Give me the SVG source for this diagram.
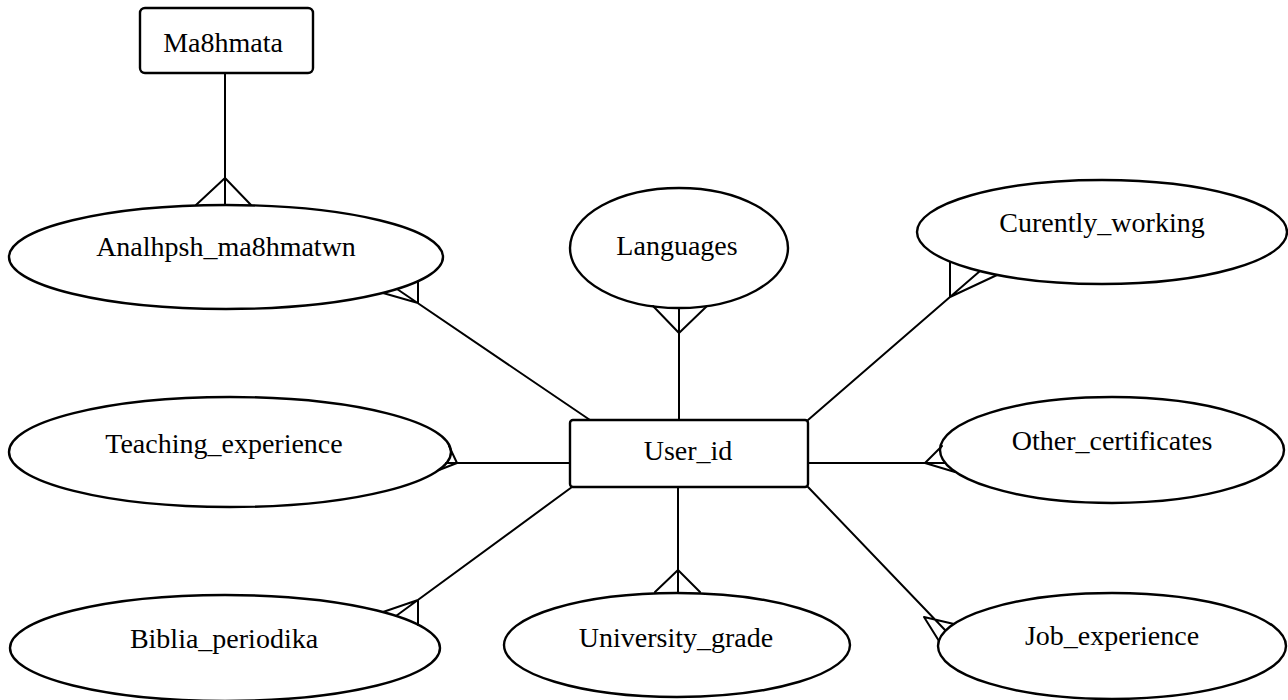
<svg xmlns="http://www.w3.org/2000/svg" width="1288" height="700" viewBox="0 0 1288 700">
<style>
  .ent { fill: #ffffff; stroke: #000; stroke-width: 2.4; }
  .att { fill: #ffffff; stroke: #000; stroke-width: 2.4; }
  .ln { fill: none; stroke: #000; stroke-width: 2; stroke-linecap: round; stroke-linejoin: round; }
  text { font-family: 'Liberation Serif', 'DejaVu Serif', 'Times New Roman', Times, serif; font-size: 28px; fill: #000; text-anchor: middle; }
</style>
<rect width="1288" height="700" fill="#ffffff"/>
<g id="node-ma8hmata">
  <rect class="ent" x="140" y="8" width="173" height="65" rx="5"/>
  <text x="223" y="52">Ma8hmata</text>
</g>
<g id="node-analhpsh">
  <ellipse class="att" cx="226" cy="257" rx="217" ry="52"/>
  <text x="226" y="256">Analhpsh_ma8hmatwn</text>
</g>
<g id="node-languages">
  <ellipse class="att" cx="679" cy="248" rx="109" ry="60"/>
  <text x="677" y="255">Languages</text>
</g>
<g id="node-currently">
  <ellipse class="att" cx="1102" cy="232" rx="185" ry="52"/>
  <text x="1102" y="232">Curently_working</text>
</g>
<g id="node-teaching">
  <ellipse class="att" cx="230" cy="452" rx="221" ry="55"/>
  <text x="224" y="453">Teaching_experience</text>
</g>
<g id="node-user">
  <rect class="ent" x="570" y="420" width="238" height="67" rx="3"/>
  <text x="688" y="460">User_id</text>
</g>
<g id="node-other">
  <ellipse class="att" cx="1112" cy="450" rx="172" ry="53"/>
  <text x="1112" y="450">Other_certificates</text>
</g>
<g id="node-biblia">
  <ellipse class="att" cx="225" cy="648" rx="215" ry="53"/>
  <text x="224" y="648">Biblia_periodika</text>
</g>
<g id="node-university">
  <ellipse class="att" cx="677" cy="645" rx="173" ry="52"/>
  <text x="676" y="647">University_grade</text>
</g>
<g id="node-job">
  <ellipse class="att" cx="1112" cy="646" rx="174" ry="53"/>
  <text x="1112" y="645">Job_experience</text>
</g>
<g id="connectors">
  <!-- Ma8hmata - Analhpsh -->
  <path class="ln" d="M225,74 L225,205 M196,205 L225,178 L251,205"/>
  <!-- User_id - Analhpsh -->
  <path class="ln" d="M590,420 L397,289 M418,281 L418,303 L383,293"/>
  <!-- User_id - Languages -->
  <path class="ln" d="M679,419 L679,308 M653,306 L679,333 L707,306"/>
  <!-- User_id - Currently_working -->
  <path class="ln" d="M808,420 L980,271 M950,262 L950,297 L997,275"/>
  <!-- User_id - Teaching_experience -->
  <path class="ln" d="M569,463 L446,463 M449,446 L457,463 L439,470"/>
  <!-- User_id - Other_certificates -->
  <path class="ln" d="M809,463 L945,463 M942,446 L925,463 L955,472"/>
  <!-- User_id - Biblia_periodika -->
  <path class="ln" d="M572,487 L396,616 M418,625 L418,600 L383,612"/>
  <!-- User_id - University_grade -->
  <path class="ln" d="M678,488 L678,593 M655,592 L678,570 L700,592"/>
  <!-- User_id - Job_experience -->
  <path class="ln" d="M808,487 L945,630 M954,624 L924,617 L939,641"/>
</g>
</svg>
